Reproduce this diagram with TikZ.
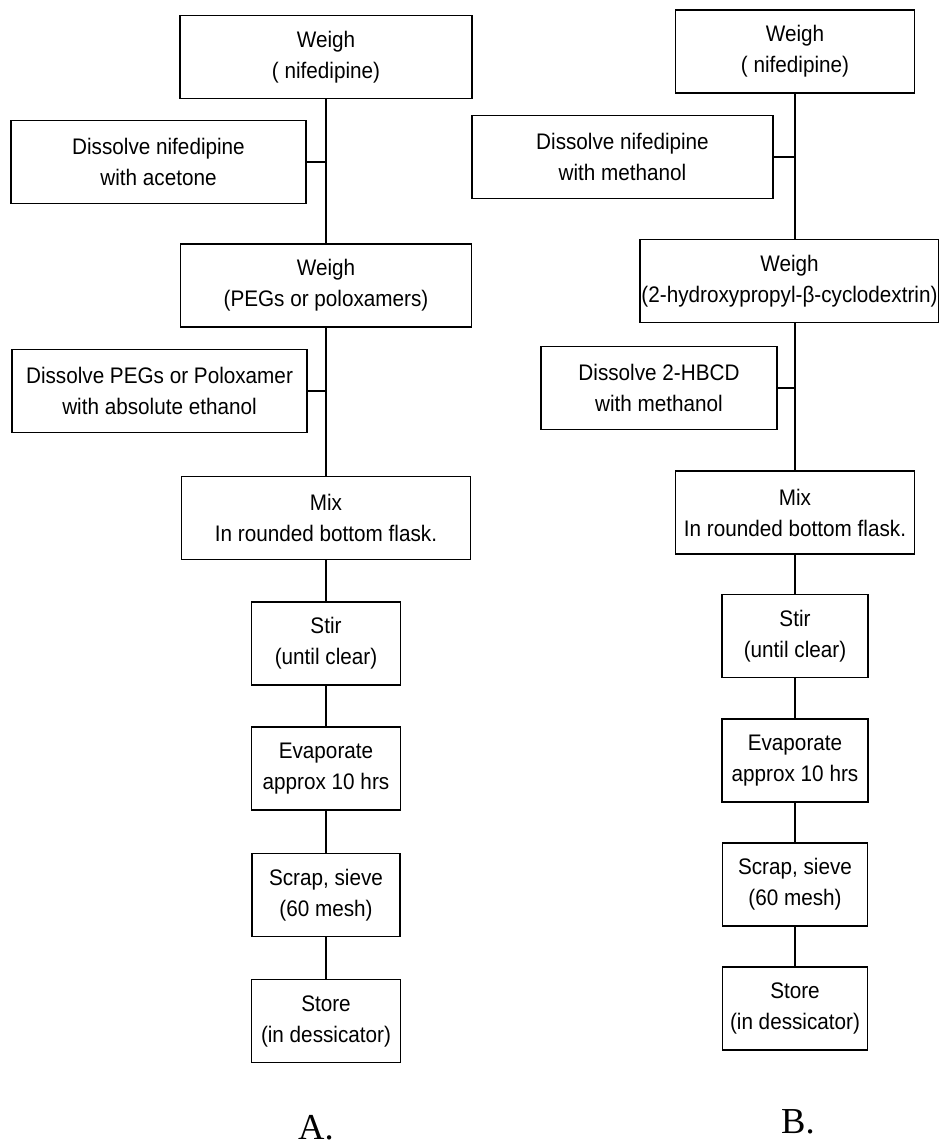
\documentclass[tikz,border=0pt]{standalone}
\usepackage{fontspec}
\setmainfont[FakeStretch=0.92]{Liberation Sans}
\newfontfamily\panelfont{Liberation Serif}

\begin{document}
\begin{tikzpicture}[
    x=0.025cm,
    y=-0.025cm,
    font=\fontsize{16}{22}\selectfont,
    stepbox/.style={
        draw,
        line width=1.1pt,
        align=center,
        minimum height=2.075cm,
        inner xsep=1pt,
        inner ysep=0pt
    },
    boxw/.style={minimum width=#1*0.025cm},
    link/.style={line width=1.1pt},
    panel/.style={font=\panelfont\fontsize{26}{30}\selectfont}
]

\useasboundingbox (0,0) rectangle (939,1147);

% --------------------------------------------------
% A: PEGs / poloxamers
% --------------------------------------------------

\node[stepbox,boxw=292] (wnA) at (326,57)
    {Weigh\\( nifedipine)};

\node[stepbox,boxw=295] (dnA) at (158.5,162)
    {Dissolve nifedipine\\with acetone};

\node[stepbox,boxw=291] (wpA) at (326,285.5)
    {Weigh\\(PEGs or poloxamers)};

\node[stepbox,boxw=295] (dpA) at (159.5,391)
    {Dissolve PEGs or Poloxamer\\with absolute ethanol};

\node[stepbox,boxw=289] (mixA) at (326,518)
    {Mix\\In rounded bottom flask.};

\node[stepbox,boxw=149] (stirA) at (326,643.5)
    {Stir\\(until clear)};

\node[stepbox,boxw=149] (evapA) at (326,768.5)
    {Evaporate\\approx 10 hrs};

\node[stepbox,boxw=148] (scrapA) at (326,895)
    {Scrap, sieve\\(60 mesh)};

\node[stepbox,boxw=149] (storeA) at (326,1021)
    {Store\\(in dessicator)};

\draw[link] (wnA) -- (wpA) -- (mixA) -- (stirA) -- (evapA) -- (scrapA) -- (storeA);
\draw[link] (dnA.east) -- (dnA.east -| wnA.south);
\draw[link] (dpA.east) -- (dpA.east -| wpA.south);

\node[panel] (labA) at (316,1128) {A.};

% --------------------------------------------------
% B: 2-hydroxypropyl-beta-cyclodextrin
% --------------------------------------------------

\node[stepbox,boxw=239] (wnB) at (795,51.5)
    {Weigh\\( nifedipine)};

\node[stepbox,boxw=301] (dnB) at (622.5,157)
    {Dissolve nifedipine\\with methanol};

\node[stepbox,boxw=298] (hpB) at (789.5,281)
    {Weigh\\(2-hydroxypropyl-β-cyclodextrin)};

\node[stepbox,boxw=236] (dhB) at (659,388)
    {Dissolve 2-HBCD\\with methanol};

\node[stepbox,boxw=239] (mixB) at (795,512.5)
    {Mix\\In rounded bottom flask.};

\node[stepbox,boxw=146] (stirB) at (795,636)
    {Stir\\(until clear)};

\node[stepbox,boxw=146] (evapB) at (795,760.5)
    {Evaporate\\approx 10 hrs};

\node[stepbox,boxw=145] (scrapB) at (795,884.5)
    {Scrap, sieve\\(60 mesh)};

\node[stepbox,boxw=145] (storeB) at (795,1008.5)
    {Store\\(in dessicator)};

\draw[link] (wnB.south) -- (wnB.south |- hpB.north);
\draw[link] (hpB.south -| mixB.north) -- (mixB.north);
\draw[link] (mixB) -- (stirB) -- (evapB) -- (scrapB) -- (storeB);
\draw[link] (dnB.east) -- (dnB.east -| wnB.south);
\draw[link] (dhB.east) -- (dhB.east -| mixB.north);

\node[panel] (labB) at (798,1122) {B.};

\end{tikzpicture}
\end{document}
